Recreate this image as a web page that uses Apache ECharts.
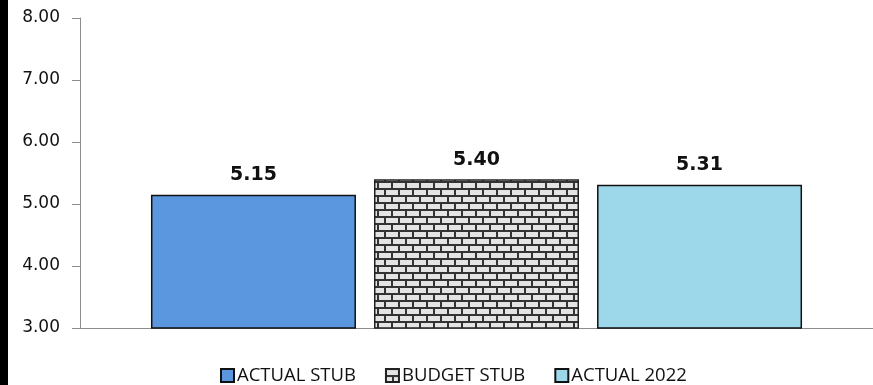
<!DOCTYPE html>
<html>
<head>
<meta charset="utf-8">
<script src="https://cdn.jsdelivr.net/npm/echarts@6/dist/echarts.min.js"></script>
<style>
html,body{margin:0;padding:0;background:#fff;}
#chart{width:873px;height:385px;}
</style>
</head>
<body>
<div id="chart"></div>
<script>
const categories = [''];
const seriesNames = ['ACTUAL STUB', 'BUDGET STUB', 'ACTUAL 2022'];
const actualStub = [5.15];
const budgetStub = [5.40];
const actual2022 = [5.31];
const yMin = 3, yMax = 8, yStep = 1;

function brickPattern() {
  const c = document.createElement('canvas');
  c.width = 14; c.height = 14;
  const g = c.getContext('2d');
  g.fillStyle = '#333333';
  g.fillRect(0, 0, 14, 14);
  g.fillStyle = '#e4e4e4';
  g.fillRect(1, 1, 12, 5);
  g.fillRect(0, 8, 6, 5);
  g.fillRect(8, 8, 6, 5);
  return c;
}

const chart = echarts.init(document.getElementById('chart'), null, {renderer: 'canvas'});
const labelCfg = {
  show: true, position: 'top', distance: 10,
  fontFamily: 'DejaVu Sans', fontWeight: 'bold', fontSize: 19, color: '#111',
  formatter: p => p.value.toFixed(2)
};
const barCommon = {
  type: 'bar', barWidth: 205, barGap: '8.8%',
  label: labelCfg
};
chart.setOption({
  animation: false,
  graphic: [{type: 'rect', shape: {x: 0, y: 0, width: 8, height: 385}, style: {fill: '#000'}, z: 100}],
  grid: {left: 80, right: 0, top: 18, bottom: 57, containLabel: false},
  legend: {
    top: 361, left: 215, itemWidth: 13, itemHeight: 13, itemGap: 29,
    icon: 'rect',
    textStyle: {fontFamily: 'Open Sans', fontSize: 18.5, color: '#111', padding: [0, 0, 0, -2]},
    data: seriesNames
  },
  xAxis: {
    type: 'category', data: categories,
    axisLine: {show: true, lineStyle: {color: '#8c8c8c', width: 1}},
    axisTick: {show: false}, axisLabel: {show: false}
  },
  yAxis: {
    type: 'value', min: yMin, max: yMax, interval: yStep,
    axisLine: {show: true, lineStyle: {color: '#8c8c8c', width: 1}},
    axisTick: {show: true, length: 8, lineStyle: {color: '#8c8c8c'}},
    splitLine: {show: false},
    axisLabel: {fontFamily: 'DejaVu Sans', fontSize: 17, color: '#111', margin: 20,
      formatter: v => v.toFixed(2)}
  },
  series: [
    Object.assign({}, barCommon, {name: seriesNames[0], data: actualStub,
      itemStyle: {color: '#5b97de', borderColor: '#111', borderWidth: 1.5}}),
    Object.assign({}, barCommon, {name: seriesNames[1], data: budgetStub,
      itemStyle: {color: {image: brickPattern(), repeat: 'repeat'}, borderColor: '#222', borderWidth: 1.5}}),
    Object.assign({}, barCommon, {name: seriesNames[2], data: actual2022,
      itemStyle: {color: '#9dd8ea', borderColor: '#111', borderWidth: 1.5}})
  ]
});
</script>
</body>
</html>
